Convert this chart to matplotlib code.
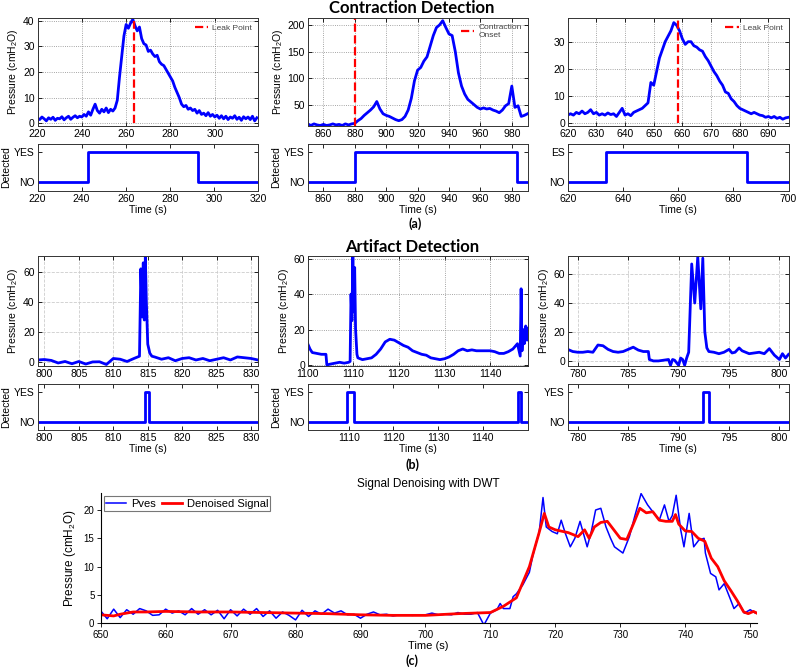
import numpy as np
import matplotlib
matplotlib.use('Agg')
import matplotlib.pyplot as plt

plt.rcParams['font.family'] = ['Liberation Sans', 'DejaVu Sans']
plt.rcParams['mathtext.default'] = 'regular'

BLUE = '#0000ff'
RED = '#ff0000'
PLABEL = 'Pressure (cmH$_2$O)'

# ---------------- (a) contraction detection ----------------
t_a1 = np.arange(220, 320)
p_a1 = [2, 1.5, 2.5, 1.8, 1, 2.2, 1.6, 2.4, 1.2, 2, 1.8, 2.6, 1.4, 2.2, 2.8, 1.6, 2.4, 3, 2.2, 2.8,
        2.5, 3.5, 2.8, 4.5, 3.2, 5.5, 7.5, 5, 4, 5.5, 4.5, 6, 4.2, 5.5, 4.8, 6,
        9, 18, 26, 34, 38.5, 37, 39, 40.5, 38, 36, 37.5, 33, 31, 30.5, 28, 28.5, 27, 26, 26.5, 24,
        23, 22.5, 21, 19.5, 18, 16.5, 14, 12, 10, 7.5, 6.5, 7, 5.5, 6, 5, 5.5, 4, 5, 3.5, 4,
        3, 4.2, 2.8, 3.5, 2.5, 3.2, 2, 3, 1.8, 2.8, 1.5, 2.5, 2, 3, 1.6, 2.4, 1.2, 2.6, 1.8, 2.5,
        1.5, 2.8, 1, 2.2]
leak_a1 = 263.5
det_a1 = [(243, 293)]

t_a2 = np.arange(850, 991, 2)
p_a2 = [14, 11, 14, 12, 11, 13, 11, 12, 14, 12, 13, 11, 14, 12, 14, 15,
        20, 24, 30, 35, 40, 46, 56, 42, 33, 30, 28, 25, 22, 20, 22, 28, 40, 62, 95, 115,
        120, 132, 140, 160, 180, 195, 200, 208, 195, 183, 180, 150, 110, 85, 70, 60, 55, 50,
        45, 42, 44, 42, 43, 40, 38, 35, 40, 48, 52, 85, 45, 48, 28, 30, 33]
onset_a2 = 880
det_a2 = [(880, 983.5)]

t_a3 = np.arange(620, 698)
p_a3 = [3, 3.5, 3, 4, 3.5, 4.5, 3.5, 4, 5, 3.5, 4, 3, 3.5, 3, 3.8, 3.2, 3.5, 2.5, 4, 5.5,
        3, 3.5, 2.8, 4, 4.5, 5, 5.5, 6.5, 7.5, 15, 14, 19, 24, 27, 30, 32, 34, 37, 36, 34,
        31, 29, 30, 30, 28.5, 28, 27, 26.5, 24.5, 23, 21, 19, 17.5, 15.5, 14, 11.5, 11, 9, 8, 6.5,
        5.5, 5, 4.5, 4, 3.5, 4, 3.5, 3, 2.8, 2.2, 2.5, 2, 2.5, 1.8, 2.2, 1.5, 2, 2.2]
leak_a3 = 658.3
det_a3 = [(634, 685)]

# ---------------- (b) artifact detection ----------------
t_b1 = [799, 800, 801, 802, 803, 804, 805, 806, 807, 808, 809, 810, 811, 812, 813,
        813.8, 814.0, 814.2, 814.35, 814.5, 814.65, 814.8, 815.0, 815.3, 815.6,
        816, 817, 818, 819, 820, 821, 822, 823, 824, 825, 826, 827, 828, 829, 830, 831]
p_b1 = [1.5, 1.8, 1.2, -0.5, 0.5, -1, 0.5, -1.2, 0.2, 0.3, -1.5, 2.5, 2, 0.5, 2.5,
        4, 62, 30, 66, 28, 70, 40, 12, 6, 4,
        3.5, 2, 3, 1, 2.5, 3, 1.5, 2.5, 1, 2, 3, 1.5, 3.5, 3, 2.5, 1.5]
det_b1 = [(814.6, 815.2)]

t_b2 = [1100, 1100.5, 1101, 1102, 1103, 1104, 1104.2, 1105, 1106, 1107, 1108, 1109,
        1109.3, 1109.5, 1109.7, 1109.9, 1110.1, 1110.3, 1110.5, 1110.8,
        1111, 1112, 1113, 1114, 1115, 1116, 1117, 1118, 1119, 1120,
        1121, 1122, 1123, 1124, 1125, 1126, 1127, 1128, 1129, 1130,
        1131, 1132, 1133, 1134, 1135, 1136, 1137, 1138, 1139, 1140,
        1141, 1142, 1143, 1144, 1145, 1146,
        1146.6, 1146.8, 1147.0, 1147.2, 1147.5, 1147.8, 1148.1, 1148.4, 1148.7, 1149, 1149.5]
p_b2 = [12, 9, 7, 6.5, 6, 6, 0, 0.5, 1, 1.5, 1, 1.5,
        2, 40, 25, 62, 30, 55, 20, 6,
        4, 3, 3.5, 4, 6, 9, 13, 14.5, 14, 12.5,
        11, 10, 8, 7, 6, 5.5, 4, 3.5, 3, 3.5,
        4.5, 6, 8, 9, 8, 8.5, 8, 8, 8, 8,
        7.5, 6.5, 6.5, 7.5, 9, 12,
        5, 43, 8, 20, 12, 22, 14, 21, 18, 20, 19]
det_b2 = [(1109.7, 1111.1), (1147.8, 1148.6)]

t_b3 = [779, 779.5, 780, 780.5, 781, 781.5, 782, 782.5, 783, 783.5,
        784, 784.5, 785, 785.5, 786, 786.5, 787, 787.1, 787.5, 788,
        788.5, 789, 789.2, 789.4, 789.6, 790, 790.2, 790.4, 790.6, 790.8,
        791, 791.3, 791.6, 791.9, 792.2, 792.4, 792.6, 792.8, 793, 793.5,
        794, 794.5, 795, 795.3, 795.6, 796, 796.3, 797, 797.5, 798,
        798.5, 799, 799.5, 800, 800.3, 800.6, 800.9]
p_b3 = [8, 6.5, 6, 6, 6.5, 6, 11, 10.5, 8, 6.5,
        6, 6.5, 8, 9.5, 7.5, 6.5, 6.5, 1, 0, 0,
        0.5, 1, -3, 1, 0.5, -3, 2, 1, -3, 2,
        6, 67, 40, 72, 36, 71, 20, 9, 6.5, 6,
        5, 6, 8, 5.5, 6, 9, 7, 5, 5.5, 6,
        5, 8.5, 4, 1, 5, 2, 4.5]
det_b3 = [(792.45, 793.0)]

# ---------------- (c) DWT denoising ----------------
t_pves = list(np.arange(650, 711)) + [
    711, 711.5, 712, 713, 713.5, 714, 715, 716, 716.5, 717,
    717.5, 718.1, 718.6, 719.5, 720.3, 720.9, 721.5, 722.3, 723, 723.8,
    724.9, 725.5, 726.2, 727, 727.8, 728.5, 729.1, 730.4, 731.4, 732.2,
    733.2, 734.2, 735.2, 736, 736.8, 737.5, 738, 738.6, 739.3, 739.8,
    740.6, 741.3, 742.1, 742.9, 743.1, 743.9, 744.7, 745.2, 746, 747,
    747.5, 748.3, 749.1, 750, 750.8, 751]
pves = [2.2, 0.8, 2.5, 1.0, 2.4, 1.6, 2.6, 2.2, 1.4, 1.5,
        2.5, 1.8, 2.2, 1.5, 2.6, 1.6, 2.4, 1.5, 2.3, 0.8,
        2.4, 1.3, 2.5, 1.6, 2.6, 1.2, 2.2, 0.9, 2.0, 1.4,
        0.6, 2.3, 1.2, 2.2, 1.6, 2.5, 1.8, 2.2, 1.5, 1.6,
        0.9, 1.6, 2.0, 1.5, 1.6, 1.3, 1.5, 1.5, 1.4, 1.5,
        1.5, 1.8, 1.5, 1.6, 1.5, 1.9, 1.6, 1.6, 1.9, -0.3,
        1.8,
        2.4, 3.5, 2.6, 2.6, 4.7, 5.2, 6.8, 9, 11.8, 14,
        16, 22.2, 17, 16.2, 15.8, 18.2, 16, 13.5, 15, 18,
        13.5, 16, 20, 20.3, 17, 15, 13.5, 12.4, 15.3, 18.8,
        22.9, 20.9, 19.4, 18.2, 20.9, 18, 19, 22.6, 16.5, 13.5,
        19.4, 13.5, 14.7, 15, 12.4, 8.8, 8.2, 5.9, 7, 4.1,
        2.6, 3.5, 1.8, 2.4, 1.8, 1.9]
t_den = [650, 652, 653, 655, 657, 660, 665, 670, 675, 680,
         685, 690, 695, 700, 705, 710, 712, 714, 716, 717.5,
         718.3, 719, 720, 722, 723.5, 724.5, 725.2, 726, 727, 728,
         729, 730, 731, 732, 733, 734, 735, 736, 737, 738,
         738.5, 739, 740, 741, 742, 743, 744, 745, 746, 747,
         748, 749, 749.7, 750.5, 751]
denoised = [1.5, 1.3, 1.6, 2.0, 2.0, 2.1, 2.0, 2.0, 1.9, 1.8,
            1.7, 1.5, 1.4, 1.4, 1.7, 1.9, 3.0, 4.5, 10, 16,
            19.4, 17, 16.5, 16, 15.3, 16.5, 15, 17, 17.8, 18,
            16.5, 15, 14.8, 17.5, 20.3, 19.5, 19.7, 18.2, 18, 18,
            19.2, 17.5, 16.3, 16.2, 15, 14.5, 11.5, 10, 7.5, 5.8,
            4, 2, 1.7, 2.1, 1.8]

W, H = 800, 668
fig = plt.figure(figsize=(8, 6.68), dpi=100)


def box(l, t, r, b):
    return [l / W, 1 - b / H, (r - l) / W, (b - t) / H]


def step_trace(xlim, pulses):
    t, d = [xlim[0]], [0]
    for on, off in pulses:
        t += [on, on, off, off]
        d += [0, 1, 1, 0]
    t.append(xlim[1])
    d.append(0)
    return t, d


def matlab_ticks(ax, size=7.5):
    ax.tick_params(direction='in', top=True, right=True, length=3, width=0.6,
                   labelsize=size, pad=2)
    ax.tick_params(axis='x', pad=2.5)
    for s in ax.spines.values():
        s.set_linewidth(0.7)
        s.set_color('#333333')


cols = [(37.5, 258), (307.7, 527.5), (567.7, 788.5)]
row1 = ((18, 126), (144, 191))
row2 = ((256, 366), (384, 430))


def signal_ax(col, rows, t, p, xlim, ylim, xticks, yticks, gridls, ylab=True):
    l, r = cols[col]
    ax = fig.add_axes(box(l, rows[0][0], r, rows[0][1]))
    ax.plot(t, p, color=BLUE, lw=2)
    ax.set_xlim(xlim)
    ax.set_ylim(ylim)
    ax.set_xticks(xticks)
    ax.set_yticks(yticks)
    if gridls == ':':
        ax.grid(True, ls=':', color='#888888', lw=0.6)
    else:
        ax.grid(True, ls='--', color='#cccccc', lw=0.6)
    matlab_ticks(ax)
    if ylab:
        ax.set_ylabel(PLABEL, fontsize=7.5, labelpad=2)
    return ax


def detect_ax(col, rows, xlim, pulses, xticks, ylab=True, yes='YES'):
    l, r = cols[col]
    ax = fig.add_axes(box(l, rows[1][0], r, rows[1][1]))
    t, d = step_trace(xlim, pulses)
    ax.plot(t, d, color=BLUE, lw=2)
    ax.set_xlim(xlim)
    ax.set_ylim(-0.28, 1.25)
    ax.set_xticks(xticks)
    ax.set_yticks([0, 1])
    ax.set_yticklabels(['NO', yes])
    matlab_ticks(ax)
    ax.set_xlabel('Time (s)', fontsize=7.5, labelpad=0.5)
    if ylab:
        ax.set_ylabel('Detected', fontsize=7.5, labelpad=2)
    return ax


def leak_legend(ax):
    ax.legend(loc='upper right', frameon=False, fontsize=6, handlelength=1.6,
              handletextpad=0.5, borderaxespad=0.3, labelcolor='#444444')


# row (a)
ax = signal_ax(0, row1, t_a1, p_a1, (220, 319.5), (-1, 41), range(220, 301, 20),
               range(0, 41, 10), ':')
ax.plot([leak_a1, leak_a1], [0, 40], color=RED, ls='--', lw=1.6, label='Leak Point')
leak_legend(ax)
detect_ax(0, row1, (220, 320), det_a1, range(220, 321, 20))

ax = signal_ax(1, row1, t_a2, p_a2, (850, 990), (10, 213), range(860, 981, 20),
               range(50, 201, 50), ':')
ax.plot([onset_a2, onset_a2], [10, 213], color=RED, ls='--', lw=1.6,
        label='Contraction\nOnset')
leak_legend(ax)
detect_ax(1, row1, (850, 990), det_a2, range(860, 981, 20))

ax = signal_ax(2, row1, t_a3, p_a3, (620, 697), (-1, 38.7), range(620, 691, 10),
               range(0, 31, 10), ':', ylab=False)
ax.plot([leak_a3, leak_a3], [0, 38.7], color=RED, ls='--', lw=1.6, label='Leak Point')
leak_legend(ax)
detect_ax(2, row1, (620, 700), det_a3, range(620, 701, 20), ylab=False, yes='ES')

# row (b)
signal_ax(0, row2, t_b1, p_b1, (799, 831), (-2.5, 70.5), range(800, 831, 5),
          range(0, 61, 20), '--')
detect_ax(0, row2, (799, 831), det_b1, range(800, 831, 5))

signal_ax(1, row2, t_b2, p_b2, (1100, 1148.2), (-0.6, 61.5), range(1100, 1141, 10),
          range(0, 61, 20), ':')
detect_ax(1, row2, (1100.8, 1150), det_b2, range(1110, 1141, 10))

signal_ax(2, row2, t_b3, p_b3, (779, 800.9), (-3.5, 72.5), range(780, 801, 5),
          range(0, 61, 20), '--')
detect_ax(2, row2, (779, 800.9), det_b3, range(780, 801, 5), ylab=False)

# row (c)
axc = fig.add_axes(box(100.7, 493, 756.7, 623.3))
axc.plot(t_pves, pves, color=BLUE, lw=1.1, label='Pves')
axc.plot(t_den, denoised, color=RED, lw=2, label='Denoised Signal')
axc.set_xlim(650, 751)
axc.set_ylim(0, 23)
axc.set_xticks(range(650, 751, 10))
axc.set_yticks(range(0, 21, 5))
axc.spines['top'].set_visible(False)
axc.spines['right'].set_visible(False)
axc.tick_params(direction='out', length=3, width=0.6, labelsize=7, pad=1.5)
axc.set_xlabel('Time (s)', fontsize=8, labelpad=1)
axc.set_ylabel(PLABEL, fontsize=8.5, labelpad=4)
axc.set_title('Signal Denoising with DWT', fontsize=8.5, pad=4)
leg = axc.legend(loc='upper left', ncol=2, fontsize=8, handlelength=1.8,
                 columnspacing=0.6, handletextpad=0.4, borderpad=0.2,
                 borderaxespad=0.3, fancybox=False, edgecolor='#555555')
leg.get_frame().set_linewidth(0.8)

# panel titles / letters
fig.text(0.515, 0.988, 'Contraction Detection', ha='center', va='center',
         fontsize=12, fontweight='bold', family='Lato')
fig.text(0.519, 0.665, '(a)', ha='center', va='center', fontsize=9,
         fontweight='bold', family='Lato')
fig.text(0.515, 0.630, 'Artifact Detection', ha='center', va='center',
         fontsize=12, fontweight='bold', family='Lato')
fig.text(0.515, 0.305, '(b)', ha='center', va='center', fontsize=9,
         fontweight='bold', family='Lato')
fig.text(0.515, 0.011, '(c)', ha='center', va='center', fontsize=9,
         fontweight='bold', family='Lato')

fig.savefig('out.png', dpi=100)
